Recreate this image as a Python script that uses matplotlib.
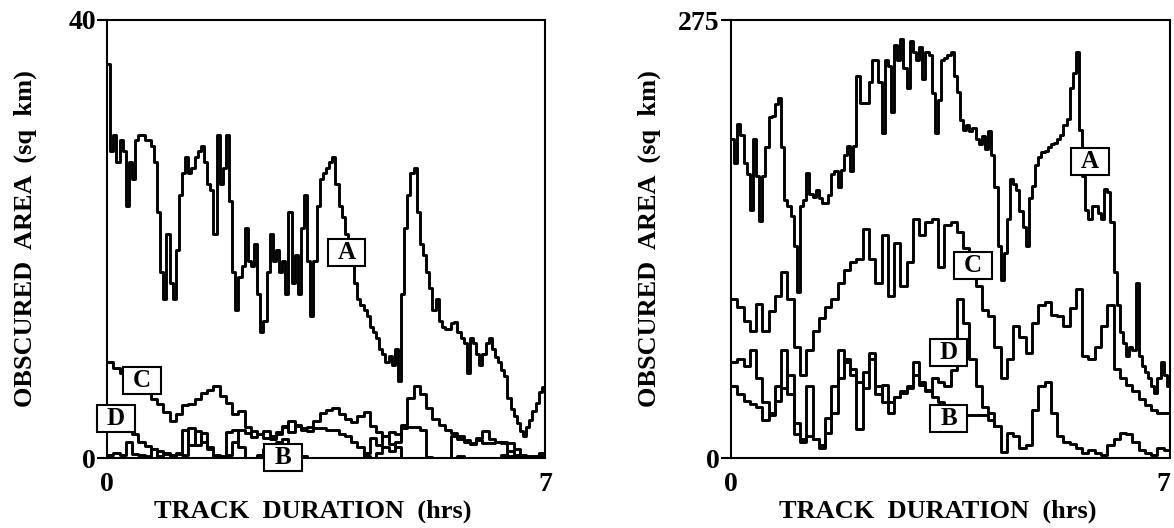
import numpy as np
import matplotlib
matplotlib.use("Agg")
import matplotlib.pyplot as plt
from matplotlib.patches import Rectangle

plt.rcParams["font.family"] = ["Liberation Serif", "DejaVu Serif"]
plt.rcParams["font.weight"] = "bold"

# ---- left panel (0-40 sq km) ----
a_left = [36, 28, 29.5, 27, 29, 28, 23, 27, 25.5, 29,
          29.5, 29.5, 29, 29, 28.5, 27, 22.5, 17, 14.5, 20.5,
          16, 14.5, 19, 24, 26, 27.5, 26, 26.5, 27.5, 28,
          28.5, 27, 25, 24.5, 20.5, 29.5, 25, 26.5, 29.5, 23.5,
          17, 13.5, 16.5, 17.5, 21, 18, 17.5, 19.5, 15, 11.5,
          12.5, 17, 20.5, 18, 19, 17, 18, 15, 22.5, 16,
          18.5, 15, 21, 24, 18, 13, 18, 23, 25.5, 26,
          26.5, 27, 27.5, 25, 23, 22, 20.5, 19.5, 18.5, 16,
          14.5, 14, 13.5, 13, 12, 11.5, 11, 10, 9.5, 8.8,
          9.3, 8.5, 10, 7, 15, 21, 24, 26, 26.5, 22.5,
          19.5, 18.5, 17, 15.5, 13.5, 14.5, 12.5, 12, 11.8, 11.8,
          12.3, 12.4, 11.5, 11, 10.5, 7.8, 11, 10.5, 9.5, 8.5,
          9.5, 10.5, 11, 10, 9.2, 8.8, 8, 7.5, 5.5, 4.5,
          3.8, 3.2, 2.5, 2, 2.8, 3.5, 4.3, 5, 6, 6.5,
          6.5]
c_left = [8.8, 8.2, 7.8, 7.4, 7.0, 6.6, 6.0, 5.4, 4.9, 4.2,
          3.4, 4.0, 4.8, 4.9, 5.4, 5.9, 6.2, 6.6, 5.7, 5.0,
          4.0, 4.3, 2.8, 2.5, 2.2, 1.8, 1.7, 2.2, 2.8, 3.4,
          2.9, 2.7, 2.8, 3.4, 4.1, 4.4, 4.6, 4.0, 3.6, 3.3,
          3.8, 4.2, 2.9, 2.4, 2.0, 2.4, 2.2, 3.0, 5.5, 6.6,
          5.8, 4.6, 3.6, 3.0, 2.6, 2.3, 2.0, 1.6, 1.4, 1.8,
          2.5, 1.7, 1.5, 1.5, 1.4, 0.8, 0.3, 0.2, 0.1, 0.2, 0.2]
d_left = [2.5, 2.8, 3.0, 2.6, 2.2, 1.5, 1.1, 0.8, 0.6, 0.5,
          0.3, 0.4, 2.6, 1.2, 2.5, 1.5, 0.8, 0.2, 0.1, 0.3,
          1.5, 2.6, 2.3, 1.9, 2.2, 2.5, 2.0, 2.4, 2.9, 2.4,
          3.0, 2.6, 2.5, 2.7, 2.7, 2.6, 2.6, 2.2, 2.0, 1.5,
          1.0, 0.2, 0.0, 0.5, 1.0, 0.6, 1.5, 2.7, 2.8, 2.8,
          2.6, 0.1, 0.0, 0.0, 0.0, 2.0, 1.7, 1.5, 1.3, 1.6,
          1.4, 1.4, 1.5, 1.4, 0.2, 0.0, 0.0, 0.0, 0.0, 0.0, 0.0]
b_left = [0.3, 0.5, 0.3, 1.5, 0.4, 0.3, 0.2, 0.8, 0.2, 0.4,
          0.1, 0.5, 0.3, 2.7, 1.2, 2.3, 1.0, 0.3, 0.2, 2.4,
          2.6, 1.0, 0.0, 0.0, 0.3, 0.8, 1.2, 1.5, 1.7, 1.0,
          0.4, 0.2, 0.0, 0.0, 0.0, 0.0, 0.0, 0.0, 0.0, 0.0,
          0.0, 0.5, 1.8, 1.2, 2.0, 1.3, 1.0, 0.0, 0.0, 0.0,
          0.0, 0.0, 0.0, 0.0, 0.0, 0.0, 0.2, 0.0, 0.0, 0.0,
          0.0, 0.0, 0.0, 0.3, 0.6, 0.3, 0.2, 0.1, 0.2, 0.5, 0.4]

# ---- right panel (0-275 sq km) ----
a_right = [200, 185, 210, 203, 185, 178, 156, 200, 177, 149,
           177, 195, 214, 215, 222, 226, 195, 162, 158, 152,
           133, 104, 158, 162, 179, 166, 164, 168, 163, 160,
           160, 165, 178, 180, 170, 181, 190, 196, 180, 196,
           240, 223, 223, 223, 236, 250, 250, 236, 204, 250,
           246, 217, 259, 250, 263, 245, 232, 262, 255, 250,
           258, 238, 255, 253, 229, 204, 225, 250, 251, 253,
           255, 240, 230, 212, 206, 209, 205, 207, 200, 197,
           202, 194, 205, 190, 170, 133, 112, 129, 150, 175,
           172, 168, 155, 145, 133, 163, 171, 184, 189, 192,
           193, 195, 197, 198, 200, 203, 209, 213, 232, 242,
           255, 206, 177, 156, 150, 158, 158, 154, 150, 169,
           167, 148, 117, 96, 79, 72, 64, 70, 68, 110,
           64, 58, 54, 50, 45, 41, 50, 60, 52, 45,
           48]
c_right = [100, 95, 86, 80, 97, 80, 92, 102, 117, 100,
           70, 52, 68, 80, 88, 95, 100, 110, 118, 123,
           125, 144, 125, 110, 140, 102, 135, 108, 123, 150,
           140, 148, 150, 120, 146, 148, 142, 132, 120, 108,
           93, 89, 70, 50, 62, 83, 76, 66, 85, 96,
           98, 90, 89, 83, 94, 106, 64, 62, 70, 83,
           96, 56, 50, 46, 42, 37, 33, 30, 28, 28, 29]
d_right = [60, 62, 58, 68, 50, 35, 27, 45, 68, 40,
           15, 12, 45, 12, 8, 25, 45, 68, 60, 52,
           18, 54, 66, 45, 35, 28, 38, 42, 45, 60,
           48, 43, 50, 48, 45, 55, 100, 85, 62, 45,
           32, 28, 20]
b_right = [45, 40, 36, 34, 32, 24, 28, 36, 44, 52,
           22, 10, 14, 12, 6, 16, 28, 50, 62, 56,
           48, 44, 62, 40, 46, 35, 38, 41, 44, 52,
           46, 42, 38, 35, 30, 28, 27, 27, 27, 27,
           27, 24, 20, 4, 16, 14, 6, 8, 30, 45,
           48, 28, 14, 10, 9, 6, 3, 5, 3, 2,
           8, 12, 16, 15, 10, 5, 3, 2, 6, 5, 6]

# curve labels: (letter, hrs, value)
labels_left = [("A", 3.83, 18.8), ("C", 0.56, 7.1), ("D", 0.14, 3.6), ("B", 2.81, 0.05)]
labels_right = [("A", 5.72, 186), ("C", 3.86, 121), ("D", 3.47, 66), ("B", 3.47, 25)]

LW = 2.1


def draw_panel(ax, series, steps, ymax, labels):
    for vals, step in zip(series, steps):
        x = np.arange(len(vals)) * step
        ax.step(x, vals, where="post", color="black", lw=LW, zorder=2)

    ax.set_xlim(0, 7)
    ax.set_ylim(0, ymax)
    ax.set_xticks([0, 7])
    ax.set_xticklabels(["0", "7"])
    ax.set_yticks([0, ymax])
    ax.set_yticklabels(["0", str(ymax)])
    ax.tick_params(axis="x", length=0, pad=10, labelsize=20)
    ax.tick_params(axis="y", length=7, width=1.5, pad=1, labelsize=20)
    for lab in ax.get_xticklabels() + ax.get_yticklabels():
        lab.set_fontweight("bold")
    for sp in ax.spines.values():
        sp.set_linewidth(1.5)

    ax.set_xlabel("TRACK  DURATION  (hrs)", fontsize=19, fontweight="bold")
    ax.set_ylabel("OBSCURED  AREA  (sq  km)", fontsize=19, fontweight="bold")
    ax.xaxis.set_label_coords(0.47, -0.095)
    ax.yaxis.set_label_coords(-0.16, 0.5)

    # white boxes with the letter, about 38 x 27 px
    bw = 0.6
    bh = ymax * 27 / 438
    for letter, xc, yc in labels:
        ax.add_patch(Rectangle((xc - bw / 2, yc - bh / 2), bw, bh, facecolor="white",
                               edgecolor="black", lw=1.5, zorder=4, clip_on=False))
        ax.text(xc, yc, letter, ha="center", va="center", fontsize=18,
                fontweight="bold", zorder=5)


fig = plt.figure(figsize=(11.74, 5.28), dpi=100)
ax1 = fig.add_axes([107 / 1174, 70 / 528, 438 / 1174, 438 / 528])
ax2 = fig.add_axes([731 / 1174, 70 / 528, 439 / 1174, 438 / 528])

draw_panel(ax1, [a_left, c_left, d_left, b_left], [0.05, 0.1, 0.1, 0.1], 40, labels_left)
draw_panel(ax2, [a_right, c_right, d_right, b_right], [0.05, 0.1, 0.1, 0.1], 275, labels_right)

# the right panel's "7" sits at the picture edge; keep it inside
ax2.get_xticklabels()[-1].set_horizontalalignment("right")

fig.savefig("out.png", dpi=100)
